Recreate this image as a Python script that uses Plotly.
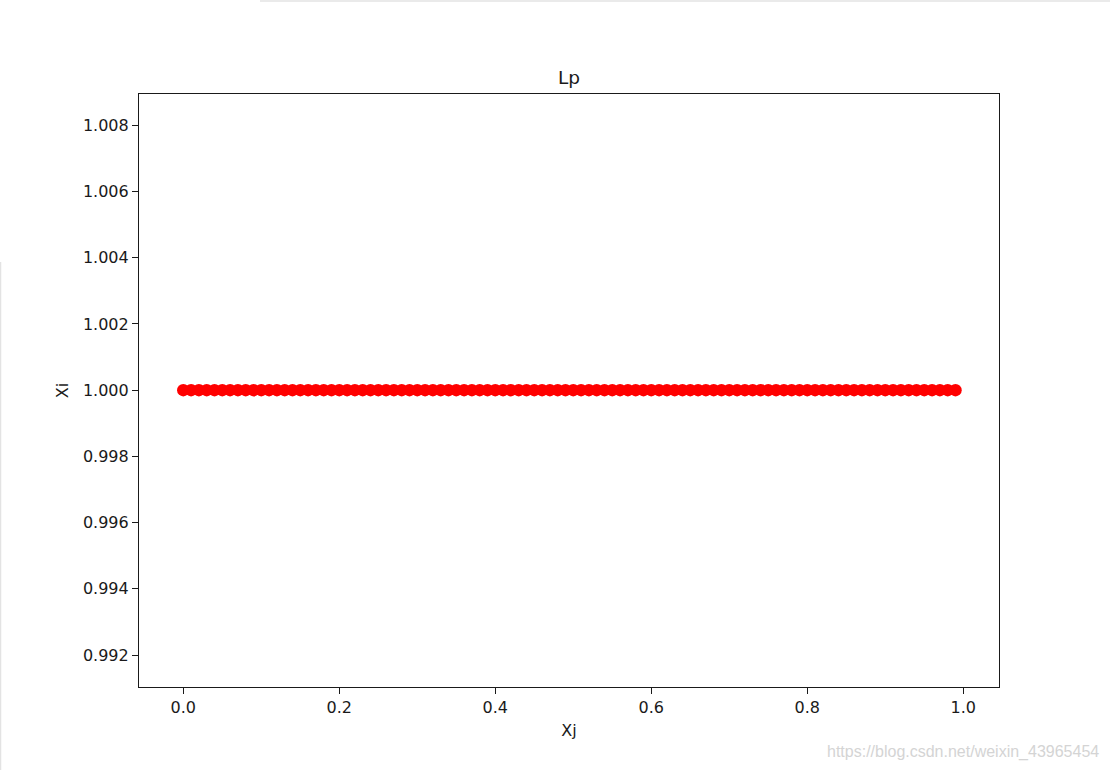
import plotly.graph_objects as go

# points: 100 dots along y = 1
xj = [
    0.00, 0.01, 0.02, 0.03, 0.04, 0.05, 0.06, 0.07, 0.08, 0.09,
    0.10, 0.11, 0.12, 0.13, 0.14, 0.15, 0.16, 0.17, 0.18, 0.19,
    0.20, 0.21, 0.22, 0.23, 0.24, 0.25, 0.26, 0.27, 0.28, 0.29,
    0.30, 0.31, 0.32, 0.33, 0.34, 0.35, 0.36, 0.37, 0.38, 0.39,
    0.40, 0.41, 0.42, 0.43, 0.44, 0.45, 0.46, 0.47, 0.48, 0.49,
    0.50, 0.51, 0.52, 0.53, 0.54, 0.55, 0.56, 0.57, 0.58, 0.59,
    0.60, 0.61, 0.62, 0.63, 0.64, 0.65, 0.66, 0.67, 0.68, 0.69,
    0.70, 0.71, 0.72, 0.73, 0.74, 0.75, 0.76, 0.77, 0.78, 0.79,
    0.80, 0.81, 0.82, 0.83, 0.84, 0.85, 0.86, 0.87, 0.88, 0.89,
    0.90, 0.91, 0.92, 0.93, 0.94, 0.95, 0.96, 0.97, 0.98, 0.99,
]
xi = [
    1.0, 1.0, 1.0, 1.0, 1.0, 1.0, 1.0, 1.0, 1.0, 1.0,
    1.0, 1.0, 1.0, 1.0, 1.0, 1.0, 1.0, 1.0, 1.0, 1.0,
    1.0, 1.0, 1.0, 1.0, 1.0, 1.0, 1.0, 1.0, 1.0, 1.0,
    1.0, 1.0, 1.0, 1.0, 1.0, 1.0, 1.0, 1.0, 1.0, 1.0,
    1.0, 1.0, 1.0, 1.0, 1.0, 1.0, 1.0, 1.0, 1.0, 1.0,
    1.0, 1.0, 1.0, 1.0, 1.0, 1.0, 1.0, 1.0, 1.0, 1.0,
    1.0, 1.0, 1.0, 1.0, 1.0, 1.0, 1.0, 1.0, 1.0, 1.0,
    1.0, 1.0, 1.0, 1.0, 1.0, 1.0, 1.0, 1.0, 1.0, 1.0,
    1.0, 1.0, 1.0, 1.0, 1.0, 1.0, 1.0, 1.0, 1.0, 1.0,
    1.0, 1.0, 1.0, 1.0, 1.0, 1.0, 1.0, 1.0, 1.0, 1.0,
]

x_ticks = [0.0, 0.2, 0.4, 0.6, 0.8, 1.0]
x_tick_labels = ["0.0", "0.2", "0.4", "0.6", "0.8", "1.0"]
y_ticks = [0.992, 0.994, 0.996, 0.998, 1.000, 1.002, 1.004, 1.006, 1.008]
y_tick_labels = ["0.992", "0.994", "0.996", "0.998", "1.000", "1.002", "1.004", "1.006", "1.008"]

title_text = "Lp"
x_label = "Xj"
y_label = "Xi"
watermark = "https://blog.csdn.net/weixin_43965454"

font = "DejaVu Sans"
ink = "#1a1a1a"

fig = go.Figure()
fig.add_trace(go.Scatter(
    x=xj, y=xi,
    mode="markers",
    marker=dict(color="#ff0000", size=12.5, line=dict(width=0)),
    showlegend=False,
))

axis_common = dict(
    showgrid=False, zeroline=False,
    showline=True, linecolor=ink, linewidth=1.2, mirror=True,
    ticks="outside", ticklen=6, tickwidth=1.2, tickcolor=ink,
    tickfont=dict(family=font, size=16, color=ink),
)

fig.update_xaxes(
    range=[-0.0568, 1.0458],
    tickvals=x_ticks, ticktext=x_tick_labels,
    title=dict(text=x_label, font=dict(family=font, size=16, color=ink), standoff=8),
    **axis_common,
)
fig.update_yaxes(
    range=[0.991036, 1.008943],
    tickvals=y_ticks, ticktext=y_tick_labels,
    title=dict(text=y_label, font=dict(family=font, size=16, color=ink), standoff=10),
    **axis_common,
)

fig.update_layout(
    width=1110, height=770,
    margin=dict(l=139, r=111, t=94, b=83),
    paper_bgcolor="white", plot_bgcolor="white",
    title=dict(text=title_text, font=dict(family=font, size=18.5, color=ink),
               x=(139 + 860 / 2) / 1110, xanchor="center", xref="container",
               y=1 - 78 / 770, yanchor="middle", yref="container"),
    annotations=[dict(
        text=watermark, xref="paper", yref="paper",
        x=(1101 - 139) / 860, y=-(752 - 687) / 593,
        xanchor="right", yanchor="middle", showarrow=False,
        font=dict(family="Liberation Sans", size=16, color="#d4d4d4"),
    )],
    shapes=[
        # faint page edges visible in the screenshot
        dict(type="line", xref="paper", yref="paper",
             x0=(260 - 139) / 860, x1=(1110 - 139) / 860,
             y0=(687 - 1) / 593, y1=(687 - 1) / 593,
             line=dict(color="#e3e3e3", width=1.5)),
        dict(type="line", xref="paper", yref="paper",
             x0=(0.5 - 139) / 860, x1=(0.5 - 139) / 860,
             y0=(687 - 262) / 593, y1=(687 - 770) / 593,
             line=dict(color="#e3e3e3", width=1.5)),
    ],
)

# drop the default page margin so the figure sits at the window's corner
fig.write_html("out.html", config={"displayModeBar": False},
               post_script="document.body.style.margin='0';")
